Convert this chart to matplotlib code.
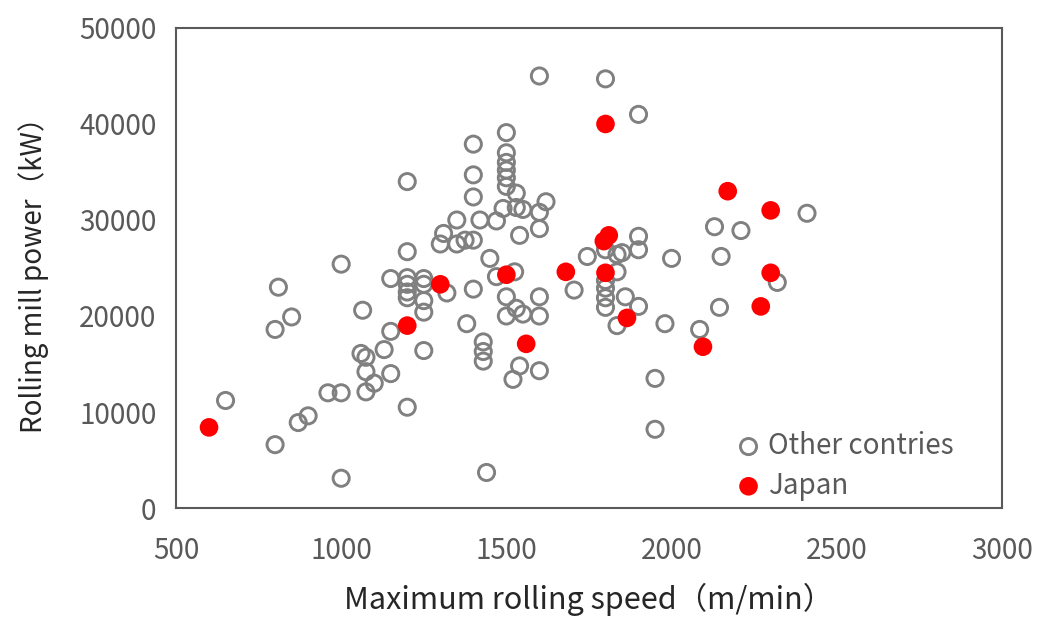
import matplotlib
matplotlib.use("Agg")
import matplotlib.pyplot as plt

plt.rcParams['font.family'] = ['Noto Sans CJK JP', 'DejaVu Sans']

# other countries: max rolling speed (m/min), mill power (kW)
other_speed = [650, 800, 800, 810, 850, 870, 900, 960, 1000, 1000,
               1000, 1065, 1060, 1075, 1075, 1075, 1100, 1130, 1150, 1150,
               1150, 1200, 1200, 1200, 1200, 1200, 1200, 1200, 1250, 1250,
               1250, 1250, 1250, 1320, 1310, 1300, 1350, 1375, 1400, 1350,
               1400, 1400, 1400, 1400, 1380, 1420, 1430, 1430, 1430, 1440,
               1450, 1470, 1470, 1490, 1500, 1500, 1500, 1500, 1500, 1500,
               1500, 1500, 1525, 1530, 1530, 1530, 1550, 1540, 1550, 1540,
               1520, 1600, 1600, 1600, 1600, 1600, 1600, 1620, 1705, 1745,
               1800, 1800, 1800, 1800, 1800, 1800, 1835, 1835, 1835, 1850,
               1860, 1900, 1900, 1900, 1900, 1950, 1950, 1980, 2000, 2085,
               2130, 2150, 2145, 2210, 2320, 2410]
other_power = [11200, 6600, 18600, 23000, 19900, 8900, 9600, 12000, 12000, 3100,
               25400, 20600, 16100, 15700, 14200, 12100, 13000, 16500, 14000, 18400,
               23900, 34000, 26700, 24000, 23300, 22500, 21900, 10500, 23900, 23300,
               21600, 20400, 16400, 22400, 28600, 27500, 27500, 27900, 27900, 30000,
               37900, 34700, 32400, 22800, 19200, 30000, 17300, 16300, 15300, 3700,
               26000, 29900, 24100, 31200, 39100, 37000, 36000, 35200, 34400, 33500,
               22000, 20000, 24600, 32800, 20800, 31300, 31100, 28400, 20200, 14800,
               13400, 45000, 30800, 29100, 22000, 20000, 14300, 31900, 22700, 26200,
               44700, 26900, 23700, 22900, 21900, 20900, 26400, 24600, 19000, 26600,
               22000, 41000, 28300, 26900, 21000, 13500, 8200, 19200, 26000, 18600,
               29300, 26200, 20900, 28900, 23500, 30700]

# Japan
japan_speed = [600, 1200, 1300, 1500, 1560, 1680, 1795, 1810, 1800, 1800,
               1865, 2095, 2170, 2270, 2300, 2300]
japan_power = [8400, 19000, 23300, 24300, 17100, 24600, 27800, 28400, 40000, 24500,
               19800, 16800, 33000, 21000, 31000, 24500]

fig = plt.figure(figsize=(10.37, 6.19), dpi=100)
ax = fig.add_axes([0.1697, 0.1793, 0.7965, 0.7755])

ax.scatter(other_speed, other_power, s=135, facecolors='none',
           edgecolors='#808080', linewidths=2.1, label='Other contries', zorder=2)
ax.scatter(japan_speed, japan_power, s=180, color='#ff0000',
           edgecolors='none', label='Japan', zorder=3)

ax.set_xlim(500, 3000)
ax.set_ylim(0, 50000)
ax.set_xticks(range(500, 3001, 500))
ax.set_yticks(range(0, 50001, 10000))
ax.tick_params(length=0, labelsize=20, labelcolor='#595959')
ax.tick_params(axis='x', pad=20)
ax.tick_params(axis='y', pad=14)
for s in ax.spines.values():
    s.set_color('#595959')
    s.set_linewidth(1.5)

ax.set_xlabel('Maximum rolling speed（m/min）', fontsize=22, color='#262626', labelpad=12)
ax.set_ylabel('Rolling mill power（kW）', fontsize=20, color='#262626', labelpad=22)

leg = ax.legend(loc='lower right', bbox_to_anchor=(0.965, -0.025), frameon=False,
                fontsize=20, handlelength=1.0, handletextpad=0.2, labelspacing=0.35,
                borderaxespad=0.3)
for t in leg.get_texts():
    t.set_color('#595959')

fig.savefig('out.png', dpi=100)
